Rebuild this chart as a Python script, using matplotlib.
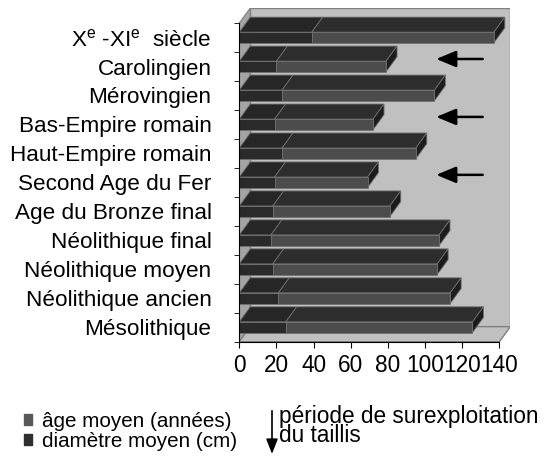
import matplotlib
matplotlib.use("Agg")
import matplotlib.pyplot as plt
from matplotlib.patches import Polygon, Rectangle, Patch

plt.rcParams['font.family'] = ['Liberation Sans', 'DejaVu Sans']

# data, top to bottom as in the picture
periodes = [r'X$^{\mathregular{e}}$ -XI$^{\mathregular{e}}$  siècle', 'Carolingien', 'Mérovingien',
            'Bas-Empire romain', 'Haut-Empire romain', 'Second Age du Fer',
            'Age du Bronze final', 'Néolithique final', 'Néolithique moyen',
            'Néolithique ancien', 'Mésolithique']
diametre = [39, 20, 23, 19, 23, 19, 18, 17, 18, 21, 25]
age = [98, 59, 82, 53, 72, 50, 63, 90.5, 88.5, 92.5, 100.5]
surexploitation = ['Carolingien', 'Bas-Empire romain', 'Second Age du Fer']

xmax = 140
DX, DY = 5.9, 0.52      # 3d depth offset (data units)
BH = 0.37               # height of the front face

c_dark = '#2a2a2a'
c_gray = '#4c4c4c'
c_top1 = '#262626'
c_top2 = '#2d2d2d'
c_side = '#1c1c1c'
c_edge = '#707070'

fig = plt.figure(figsize=(5.49, 4.59), dpi=100)
W, H = 549, 459
ax = fig.add_axes([239.3 / W, (H - 341.7) / H, 271.1 / W, 333.7 / H])
ax.set_xlim(0, xmax + DX)
ax.set_ylim(-0.5, 10.5 + DY)
n = len(periodes)

# walls and floor
ax.add_patch(Rectangle((DX, -0.5 + DY), xmax, n, fc='#c0c0c0', ec='#808080', lw=1, zorder=0))
ax.add_patch(Polygon([(0, -0.5), (DX, -0.5 + DY), (DX, n - 0.5 + DY), (0, n - 0.5)],
                     fc='#a4a4a4', ec='#808080', lw=0.8, zorder=0))
ax.add_patch(Polygon([(0, -0.5), (xmax, -0.5), (xmax + DX, -0.5 + DY), (DX, -0.5 + DY)],
                     fc='#c0c0c0', ec='#808080', lw=1, zorder=0))

ypos = [n - 1 - i for i in range(n)]
tot = [d + a for d, a in zip(diametre, age)]

for i in range(n):
    y, d, t = ypos[i], diametre[i], tot[i]
    yt = y + BH / 2
    yb = y - BH / 2
    z = 2 + i * 0.01
    ax.add_patch(Polygon([(0, yt), (d, yt), (d + DX, yt + DY), (DX, yt + DY)],
                         fc=c_top1, ec=c_edge, lw=0.6, zorder=z))
    ax.add_patch(Polygon([(d, yt), (t, yt), (t + DX, yt + DY), (d + DX, yt + DY)],
                         fc=c_top2, ec=c_edge, lw=0.6, zorder=z))
    ax.add_patch(Polygon([(t, yb), (t, yt), (t + DX, yt + DY), (t + DX, yb + DY)],
                         fc=c_side, ec=c_edge, lw=0.6, zorder=z))

ax.barh(ypos, diametre, height=BH, color=c_dark, edgecolor=c_edge, lw=0.6, zorder=3)
ax.barh(ypos, age, left=diametre, height=BH, color=c_gray, edgecolor=c_edge, lw=0.6, zorder=3)

# arrows for overexploitation periods
for p in surexploitation:
    y = ypos[periodes.index(p)] + DY / 2
    ax.annotate('', xy=(106, y), xytext=(131, y),
                arrowprops=dict(arrowstyle='-|>,head_length=1.2,head_width=0.5',
                                color='black', lw=1.8, shrinkA=0, shrinkB=0),
                zorder=4)

# axes
for s in ['top', 'right']:
    ax.spines[s].set_visible(False)
ax.spines['left'].set_bounds(-0.5, n - 0.5)
ax.spines['bottom'].set_bounds(0, xmax)
ax.spines['left'].set_zorder(5)
ax.spines['bottom'].set_zorder(5)
ax.set_xticks(range(0, xmax + 1, 20))
ax.tick_params(axis='x', direction='out', length=4, pad=5, labelsize=16.3)
ax.set_yticks(ypos)
ax.set_yticklabels(periodes, fontsize=16.2)
ax.set_yticks([k - 0.5 for k in range(n + 1)], minor=True)
ax.tick_params(axis='y', which='major', length=0, pad=20)
ax.tick_params(axis='y', which='minor', length=3.5, direction='out')

# legend
handles = [Patch(color='#585858', label='âge moyen (années)'),
           Patch(color='#2e2e2e', label='diamètre moyen (cm)')]
fig.legend(handles=handles, loc='upper left', bbox_to_anchor=(24 / W, 1 - 412 / H),
           frameon=False, fontsize=14.9, handlelength=0.4, handleheight=0.4,
           handletextpad=0.45, labelspacing=0.05, borderpad=0, borderaxespad=0)
fig.add_artist(plt.Line2D([272 / W, 272 / W], [1 - 411 / H, 1 - 442 / H], color='black', lw=1.2))
ax.annotate('', xy=(272 / W, 1 - 454 / H), xytext=(272 / W, 1 - 440 / H), xycoords='figure fraction',
            arrowprops=dict(arrowstyle='-|>,head_length=0.9,head_width=0.35', color='black',
                            lw=1.2, shrinkA=0, shrinkB=0))
fig.text(279 / W, 1 - 426 / H, 'période de surexploitation\ndu taillis', fontsize=16.3,
         va='center', ha='left', linespacing=0.8)

fig.savefig('out.png', dpi=100)
